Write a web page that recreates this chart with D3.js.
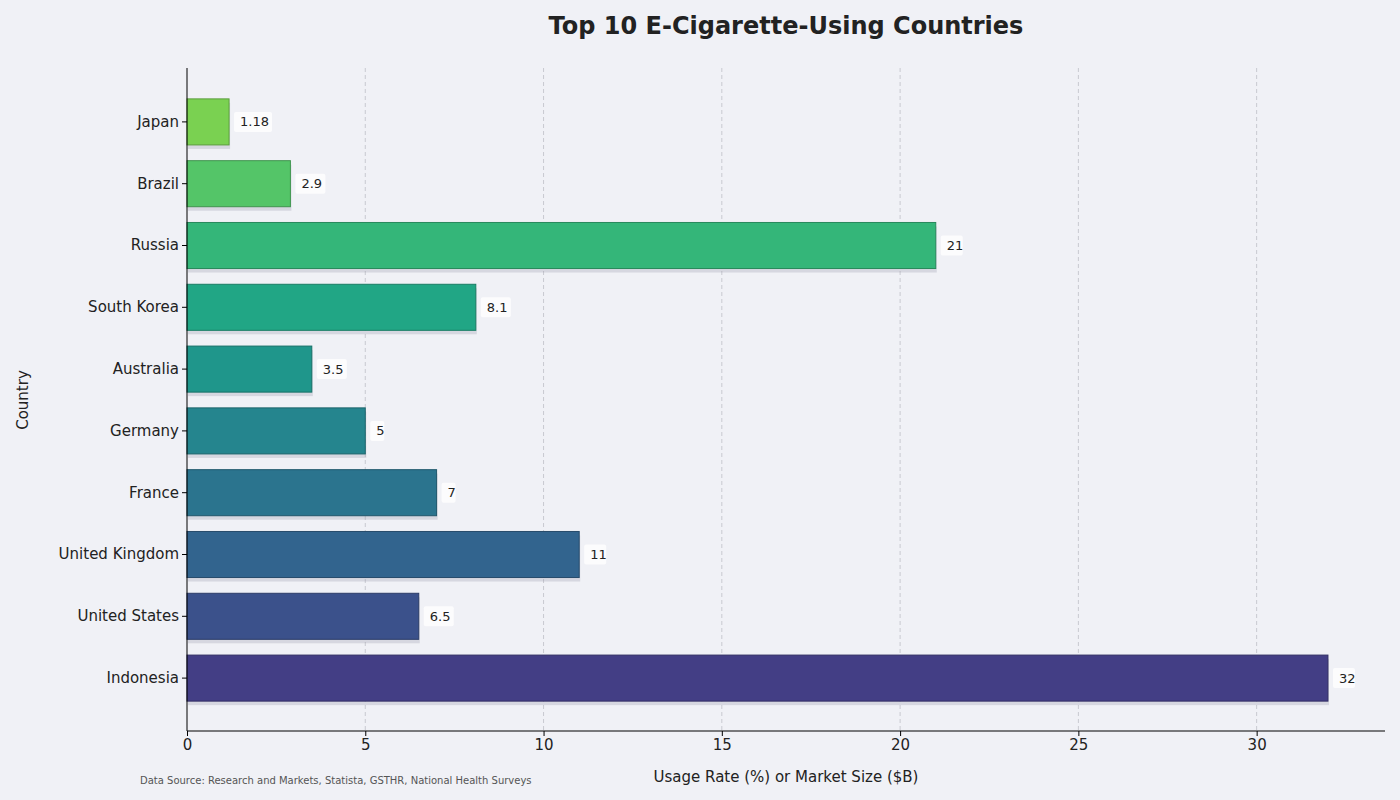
<!DOCTYPE html>
<html>
<head>
<meta charset="utf-8">
<script src="https://cdn.jsdelivr.net/npm/d3@7"></script>
<style>
  body { margin: 0; background: #f0f1f6; font-family: "DejaVu Sans", sans-serif; }
</style>
</head>
<body>
<svg id="chart" width="1400" height="800"></svg>
<script>
// data, bottom to top as in the picture
const countries = ["Indonesia", "United States", "United Kingdom", "France", "Germany",
    "Australia", "South Korea", "Russia", "Brazil", "Japan"]
const values = [32, 6.5, 11, 7, 5, 3.5, 8.1, 21, 2.9, 1.18]
const labels = ["32", "6.5", "11", "7", "5", "3.5", "8.1", "21", "2.9", "1.18"]
const xTicks = [0, 5, 10, 15, 20, 25, 30]

let svg = d3.select('#chart')
svg.append('rect').attr('width', 1400).attr('height', 800).attr('fill', '#f0f1f6')

let x = d3.scaleLinear().domain([0, 33.6]).range([187, 1385])
let y = d3.scaleBand().domain(countries.slice().reverse()).range([91, 709]).paddingInner(0.255).paddingOuter(0.1275)
let color = d3.scaleLinear().domain([0, countries.length - 1]).range([0.18, 0.8])

// grid
svg.append('g').selectAll('line').data(xTicks.slice(1)).join('line')
    .attr('x1', d => x(d)).attr('x2', d => x(d))
    .attr('y1', 68).attr('y2', 731)
    .attr('stroke', '#c8c9d0').attr('stroke-dasharray', '4,3').attr('stroke-width', 1)

// shadows
svg.append('g').selectAll('rect').data(countries).join('rect')
    .attr('x', x(0) + 1).attr('y', d => y(d) + 4)
    .attr('width', (d, i) => x(values[i]) - x(0))
    .attr('height', y.bandwidth())
    .attr('fill', '#9a9aad').attr('opacity', 0.3)

// bars
svg.append('g').selectAll('rect').data(countries).join('rect')
    .attr('x', x(0)).attr('y', d => y(d))
    .attr('width', (d, i) => x(values[i]) - x(0))
    .attr('height', y.bandwidth())
    .attr('fill', (d, i) => d3.interpolateViridis(color(i)))
    .attr('stroke', (d, i) => d3.color(d3.interpolateViridis(color(i))).darker(0.8))
    .attr('stroke-width', 1)

// value labels
let lab = svg.append('g').selectAll('g').data(countries).join('g')
    .attr('transform', (d, i) => `translate(${x(values[i]) + 8},${y(d) + y.bandwidth() / 2})`)
lab.append('rect')
    .attr('x', -3).attr('y', -10)
    .attr('width', (d, i) => labels[i].length * 8 + 6).attr('height', 20)
    .attr('fill', 'white').attr('opacity', 0.8).attr('rx', 2)
lab.append('text')
    .attr('x', 3).attr('dy', '0.35em')
    .attr('font-size', 13).attr('fill', '#222')
    .text((d, i) => labels[i])

// axes
let xAxis = svg.append('g').attr('transform', 'translate(0,731)')
    .call(d3.axisBottom(x).tickValues(xTicks).tickSize(5).tickSizeOuter(0))
xAxis.select('.domain').attr('d', 'M187,0H1385')
xAxis.selectAll('text').attr('font-size', 15).attr('fill', '#222').attr('font-family', 'DejaVu Sans')

let yAxis = svg.append('g').attr('transform', 'translate(187,0)')
    .call(d3.axisLeft(y).tickSize(5).tickSizeOuter(0))
yAxis.select('.domain').attr('d', 'M0,68V731')
yAxis.selectAll('text').attr('font-size', 15).attr('fill', '#222').attr('font-family', 'DejaVu Sans')

// titles
svg.append('text').attr('x', 786).attr('y', 34).attr('text-anchor', 'middle')
    .attr('font-size', 24).attr('font-weight', 'bold').attr('fill', '#222')
    .text('Top 10 E-Cigarette-Using Countries')
svg.append('text').attr('x', 786).attr('y', 782).attr('text-anchor', 'middle')
    .attr('font-size', 15).attr('fill', '#222')
    .text('Usage Rate (%) or Market Size ($B)')
svg.append('text').attr('transform', 'translate(28,400) rotate(-90)').attr('text-anchor', 'middle')
    .attr('font-size', 15).attr('fill', '#222')
    .text('Country')
svg.append('text').attr('x', 140).attr('y', 784)
    .attr('font-size', 10).attr('fill', '#555')
    .text('Data Source: Research and Markets, Statista, GSTHR, National Health Surveys')
</script>
</body>
</html>
